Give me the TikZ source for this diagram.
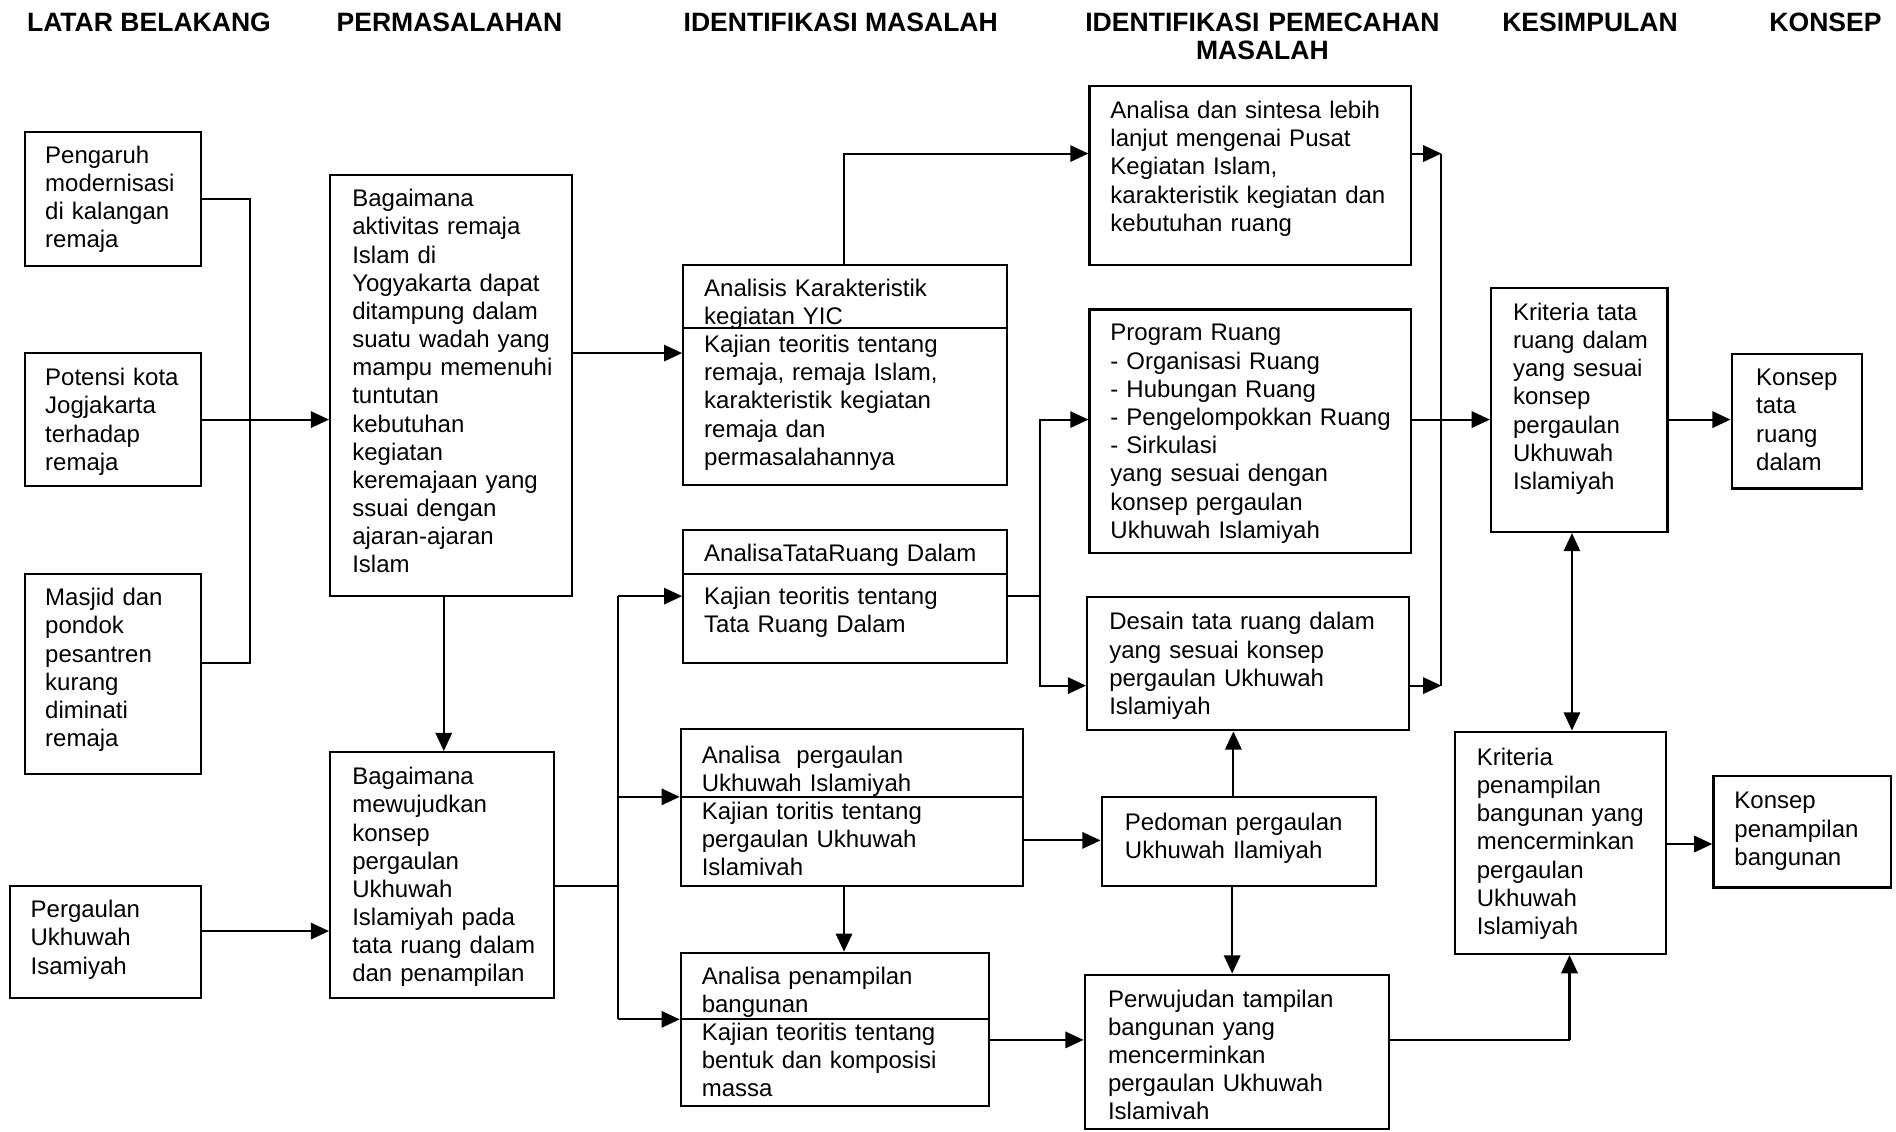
\documentclass[tikz,border=0pt]{standalone}
\usepackage{fontspec}
\setmainfont{Liberation Sans}
\usetikzlibrary{arrows.meta,fit,calc}
\begin{document}
\begin{tikzpicture}[x=0.02cm,y=-0.02cm,
  boxst/.style={draw, line width=1pt, inner sep=0pt},
  txt/.style={anchor=base west, inner sep=0pt, align=left, text width=8cm, font=\fontsize{11.3}{13.26}\selectfont},
  hdr/.style={anchor=base west, inner sep=0pt, font=\fontsize{12.5}{14.3}\selectfont\bfseries},
  conn/.style={line width=1pt},
  arr/.style={conn, -{Triangle[length=0.3cm,width=0.27cm]}},
  arrtwo/.style={conn, {Triangle[length=0.3cm,width=0.27cm]}-{Triangle[length=0.3cm,width=0.27cm]}}]
\useasboundingbox (0,0) rectangle (1568,936);

% headers
\node[hdr] (h1) at (22,26) {LATAR BELAKANG};
\node[hdr] (h2) at (278,26) {PERMASALAHAN};
\node[hdr] (h3) at (565,26) {IDENTIFIKASI MASALAH};
\node[hdr, anchor=base, align=center, text width=8cm] (h4) at (1044,26) {IDENTIFIKASI PEMECAHAN\\[-1.3pt]MASALAH};
\node[hdr] (h5) at (1242,26) {KESIMPULAN};
\node[hdr] (h6) at (1463,26) {KONSEP};

% boxes
\node[boxst, fit={(21,109) (166,220)}] (B1) {};
\node[boxst, fit={(21,292) (166,402)}] (B2) {};
\node[boxst, fit={(21,475) (166,640)}] (B3) {};
\node[boxst, fit={(8,733) (166,825)}] (B4) {};
\node[boxst, fit={(273,145) (473,493)}] (P1) {};
\node[boxst, fit={(273,622) (458,825)}] (P2) {};
\node[boxst, fit={(565,219) (833,401)}] (I1) {};
\node[boxst, fit={(565,438) (833,548)}] (I2) {};
\node[boxst, fit={(563,603) (846,733)}] (I3) {};
\node[boxst, fit={(563,788) (818,915)}] (I4) {};
\node[boxst, fit={(901,71) (1167,219)}] (D1) {};
\node[boxst, fit={(901,256) (1167,457)}] (D2) {};
\node[boxst, fit={(899,494) (1165,604)}] (D3) {};
\node[boxst, fit={(911,659) (1138,733)}] (D4) {};
\node[boxst, fit={(897,806) (1149,934)}] (D5) {};
\node[boxst, fit={(1233,238) (1379,440)}] (K1) {};
\node[boxst, fit={(1203,605) (1378,789)}] (K2) {};
\node[boxst, fit={(1432,293) (1540,404)}] (C1) {};
\node[boxst, fit={(1417,642) (1564,734)}] (C2) {};

% dividers
\draw[conn] (I1.west |- 0,271) -- (I1.east |- 0,271);
\draw[conn] (I2.west |- 0,475) -- (I2.east |- 0,475);
\draw[conn] (I3.west |- 0,659) -- (I3.east |- 0,659);
\draw[conn] (I4.west |- 0,843) -- (I4.east |- 0,843);

% texts
\node[txt] (tB1) at (37,135) {Pengaruh\\modernisasi\\di kalangan\\remaja};
\node[txt] (tB2) at (37,319) {Potensi kota\\Jogjakarta\\terhadap\\remaja};
\node[txt] (tB3) at (37,501) {Masjid dan\\pondok\\pesantren\\kurang\\diminati\\remaja};
\node[txt] (tB4) at (25,759) {Pergaulan\\Ukhuwah\\Isamiyah};
\node[txt] (tP1) at (291,171) {Bagaimana\\aktivitas remaja\\Islam di\\Yogyakarta dapat\\ditampung dalam\\suatu wadah yang\\mampu memenuhi\\tuntutan\\kebutuhan\\kegiatan\\keremajaan yang\\ssuai dengan\\ajaran-ajaran\\Islam};
\node[txt] (tP2) at (291,649) {Bagaimana\\mewujudkan\\konsep\\pergaulan\\Ukhuwah\\Islamiyah pada\\tata ruang dalam\\dan penampilan};
\node[txt] (tI1) at (582,245) {Analisis Karakteristik\\kegiatan YIC\\Kajian teoritis tentang\\remaja, remaja Islam,\\karakteristik kegiatan\\remaja dan\\permasalahannya};
\node[txt] (tI2a) at (582,464) {AnalisaTataRuang Dalam};
\node[txt] (tI2b) at (582,500) {Kajian teoritis tentang\\Tata Ruang Dalam};
\node[txt] (tI3) at (580,631) {Analisa~~pergaulan\\Ukhuwah Islamiyah\\Kajian toritis tentang\\pergaulan Ukhuwah\\Islamivah};
\node[txt] (tI4) at (580,814) {Analisa penampilan\\bangunan\\Kajian teoritis tentang\\bentuk dan komposisi\\massa};
\node[txt] (tD1) at (918,98) {Analisa dan sintesa lebih\\lanjut mengenai Pusat\\Kegiatan Islam,\\karakteristik kegiatan dan\\kebutuhan ruang};
\node[txt] (tD2) at (918,282) {Program Ruang\\- Organisasi Ruang\\- Hubungan Ruang\\- Pengelompokkan Ruang\\- Sirkulasi\\yang sesuai dengan\\konsep pergaulan\\Ukhuwah Islamiyah};
\node[txt] (tD3) at (917,521) {Desain tata ruang dalam\\yang sesuai konsep\\pergaulan Ukhuwah\\Islamiyah};
\node[txt] (tD4) at (930,687) {Pedoman pergaulan\\Ukhuwah Ilamiyah};
\node[txt] (tD5) at (916,833) {Perwujudan tampilan\\bangunan yang\\mencerminkan\\pergaulan Ukhuwah\\Islamivah};
\node[txt] (tK1) at (1251,265) {Kriteria tata\\ruang dalam\\yang sesuai\\konsep\\pergaulan\\Ukhuwah\\Islamiyah};
\node[txt] (tK2) at (1221,633) {Kriteria\\penampilan\\bangunan yang\\mencerminkan\\pergaulan\\Ukhuwah\\Islamiyah};
\node[txt] (tC1) at (1452,319) {Konsep\\tata\\ruang\\dalam};
\node[txt] (tC2) at (1434,669) {Konsep\\penampilan\\bangunan};

% junction coordinates
\coordinate (ja) at (207,548);
\coordinate (jb1) at (511,493);
\coordinate (jb2) at (511,659);
\coordinate (jb3) at (511,843);
\coordinate (jb0) at (511,733);
\coordinate (jc) at (860,493);
\coordinate (jd1) at (1192,127);
\coordinate (jd2) at (1192,567);
\coordinate (je) at (1298,860);

% connectors column 1 -> 2
\draw[conn] (B1.east) -| (ja) -- (B3.east |- ja);
\draw[arr] (B2.east |- 0,347) -- (P1.west |- 0,347);
\draw[arr] (B4.east |- 0,770) -- (P2.west |- 0,770);
\draw[arr] (P1.south -| 367,0) -- (P2.north -| 367,0);

% column 2 -> 3
\draw[arr] (P1.east |- 0,292) -- (I1.west |- 0,292);
\draw[conn] (P2.east |- jb0) -- (jb0);
\draw[conn] (jb1) -- (jb3);
\draw[arr] (jb1) -- (I2.west |- jb1);
\draw[arr] (jb2) -- (I3.west |- jb2);
\draw[arr] (jb3) -- (I4.west |- jb3);

% column 3 -> 4
\draw[arr] (I1.north -| 698,0) |- (D1.west |- 0,127);
\draw[conn] (I2.east |- jc) -- (jc);
\draw[arr] (jc) |- (D2.west |- 0,347);
\draw[arr] (jc) |- (D3.west |- 0,567);
\draw[arr] (I3.east |- 0,695) -- (D4.west |- 0,695);
\draw[arr] (I3.south -| 698,0) -- (I4.north -| 698,0);
\draw[arr] (I4.east |- 0,860) -- (D5.west |- 0,860);
\draw[arr] (D4.north -| 1020,0) -- (D3.south -| 1020,0);
\draw[arr] (D4.south -| 1019,0) -- (D5.north -| 1019,0);

% column 4 -> 5
\draw[arr] (D1.east |- jd1) -- (jd1);
\draw[arr] (D3.east |- jd2) -- (jd2);
\draw[conn] (jd1) -- (jd2);
\draw[arr] (D2.east |- 0,347) -- (K1.west |- 0,347);
\draw[conn] (D5.east |- je) -- (je);
\draw[arr] (je) -- (K2.south -| je);
\draw[arrtwo] (K1.south -| 1300,0) -- (K2.north -| 1300,0);

% column 5 -> 6
\draw[arr] (K1.east |- 0,347) -- (C1.west |- 0,347);
\draw[arr] (K2.east |- 0,698) -- (C2.west |- 0,698);
\end{tikzpicture}
\end{document}
